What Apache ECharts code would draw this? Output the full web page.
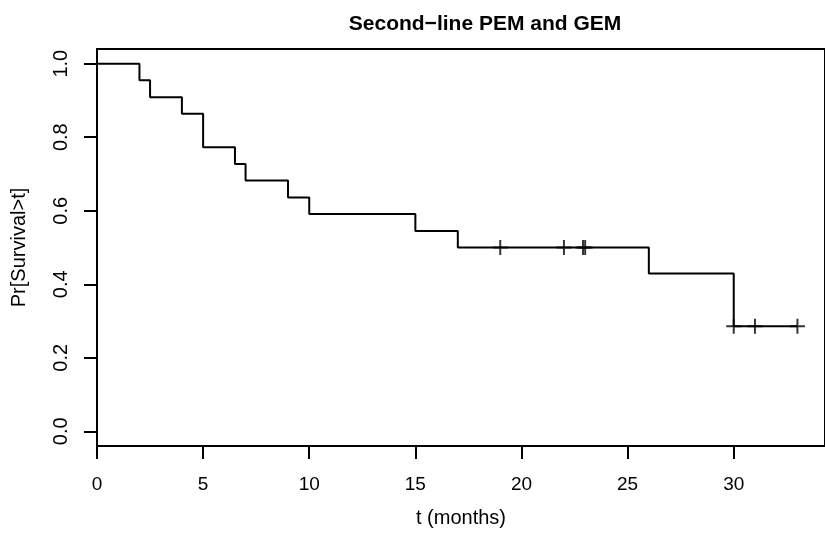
<!DOCTYPE html>
<html>
<head>
<meta charset="utf-8">
<script src="https://cdn.jsdelivr.net/npm/echarts@6/dist/echarts.min.js"></script>
<style>
  html, body { margin: 0; padding: 0; background: #fff; }
  #chart { width: 825px; height: 533px; }
</style>
</head>
<body>
<div id="chart"></div>
<script>
// Kaplan-Meier estimate: event times (months) and survival after each step
const stepTimes = [0, 2, 2.5, 4, 5, 6.5, 7, 9, 10, 15, 17, 26, 30];
const stepSurvival = [1.0, 0.955, 0.909, 0.864, 0.773, 0.727, 0.682, 0.636, 0.591, 0.545, 0.5, 0.429, 0.286];
// end of follow-up
const lastTime = 33;

// censored observations
const censorTimes = [19, 22, 22.9, 23, 30, 31, 33];
const censorSurvival = [0.5, 0.5, 0.5, 0.5, 0.286, 0.286, 0.286];

const xTicks = [0, 5, 10, 15, 20, 25, 30];
const yTicks = [0, 0.2, 0.4, 0.6, 0.8, 1.0];

const titleText = 'Second\u2212line PEM and GEM';
const xName = 't (months)';
const yName = 'Pr[Survival>t]';

const curve = stepTimes.map((t, i) => [t, stepSurvival[i]]);
curve.push([lastTime, stepSurvival[stepSurvival.length - 1]]);
const censored = censorTimes.map((t, i) => [t, censorSurvival[i]]);

const FONT = '"Liberation Sans", Arial, Helvetica, sans-serif';
const plusPath = 'path://M-0.13,-1 L0.13,-1 L0.13,-0.13 L1,-0.13 L1,0.13 L0.13,0.13 L0.13,1 L-0.13,1 L-0.13,0.13 L-1,0.13 L-1,-0.13 L-0.13,-0.13 Z';

const chart = echarts.init(document.getElementById('chart'), null, { renderer: 'canvas' });
chart.setOption({
  animation: false,
  backgroundColor: '#fff',
  title: {
    text: titleText,
    left: 480, top: 9, textAlign: 'center',
    textStyle: { fontFamily: FONT, fontSize: 21, fontWeight: 'bold', color: '#000' }
  },
  grid: {
    left: 97, top: 49, bottom: 82, right: -5,
    show: true, borderColor: '#000', borderWidth: 2, backgroundColor: 'transparent'
  },
  xAxis: {
    type: 'value', min: 0, max: 34.3,
    name: xName, nameLocation: 'middle', nameGap: 62,
    nameTextStyle: { fontFamily: FONT, fontSize: 20, color: '#000' },
    axisLine: { show: false, onZero: false },
    axisTick: { show: true, customValues: xTicks, length: 13, inside: false, lineStyle: { color: '#000', width: 2 } },
    axisLabel: { customValues: xTicks, fontFamily: FONT, fontSize: 19, color: '#000', margin: 29 },
    splitLine: { show: false }
  },
  yAxis: {
    type: 'value', min: -0.04, max: 1.04,
    name: yName, nameLocation: 'middle', nameGap: 68, nameRotate: 90,
    nameTextStyle: { fontFamily: FONT, fontSize: 20, color: '#000' },
    axisLine: { show: false, onZero: false },
    axisTick: { show: true, customValues: yTicks, length: 13, inside: false, lineStyle: { color: '#000', width: 2 } },
    axisLabel: {
      customValues: yTicks, rotate: 90, fontFamily: FONT, fontSize: 20, color: '#000', margin: 26,
      formatter: v => v.toFixed(1)
    },
    splitLine: { show: false }
  },
  series: [
    {
      type: 'line', data: curve, step: 'end', showSymbol: false, symbol: 'none',
      lineStyle: { color: '#000', width: 2 }, silent: true
    },
    {
      type: 'scatter', data: censored, symbol: plusPath, symbolSize: 15,
      itemStyle: { color: '#000' }, silent: true
    }
  ]
});
</script>
</body>
</html>
